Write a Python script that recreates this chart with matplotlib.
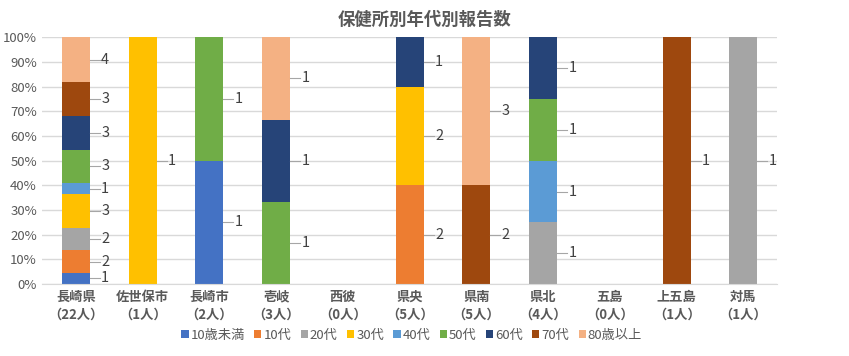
import numpy as np
import matplotlib.pyplot as plt

plt.rcParams['font.family'] = ['Noto Sans CJK JP', 'DejaVu Sans']

categories = ['長崎県', '佐世保市', '長崎市', '壱岐', '西彼', '県央', '県南', '県北', '五島', '上五島', '対馬']
totals = [22, 1, 2, 3, 0, 5, 5, 4, 0, 1, 1]
ages = ['10歳未満', '10代', '20代', '30代', '40代', '50代', '60代', '70代', '80歳以上']
# counts[age][category]
counts = [
    [1, 0, 1, 0, 0, 0, 0, 0, 0, 0, 0],
    [2, 0, 0, 0, 0, 2, 0, 0, 0, 0, 0],
    [2, 0, 0, 0, 0, 0, 0, 1, 0, 0, 1],
    [3, 1, 0, 0, 0, 2, 0, 0, 0, 0, 0],
    [1, 0, 0, 0, 0, 0, 0, 1, 0, 0, 0],
    [3, 0, 1, 1, 0, 0, 0, 1, 0, 0, 0],
    [3, 0, 0, 1, 0, 1, 0, 1, 0, 0, 0],
    [3, 0, 0, 0, 0, 0, 2, 0, 0, 1, 0],
    [4, 0, 0, 1, 0, 0, 3, 0, 0, 0, 0],
]
colors = ['#4472C4', '#ED7D31', '#A5A5A5', '#FFC000', '#5B9BD5',
          '#70AD47', '#264478', '#9E480E', '#F4B183']

fig = plt.figure(figsize=(8.49, 3.56), dpi=100)
ax = fig.add_axes([0.05, 0.202, 0.865, 0.693])

x = np.arange(len(categories))
w = 0.42
tot = np.array(totals, dtype=float)
safe = np.where(tot > 0, tot, 1)
bottom = np.zeros(len(categories))
for k, age in enumerate(ages):
    vals = np.array(counts[k], dtype=float)
    pct = vals / safe * 100
    ax.bar(x, pct, w, bottom=bottom, color=colors[k], label=age, zorder=2)
    for i in range(len(categories)):
        if vals[i] > 0:
            ym = bottom[i] + pct[i] / 2
            xe = x[i] + w / 2
            ax.plot([xe, xe + 0.15], [ym, ym], color='#A6A6A6', lw=0.8,
                    clip_on=False, zorder=3)
            ax.text(xe + 0.17, ym, str(int(vals[i])), va='center', ha='left',
                    fontsize=10.5, color='#404040')
    bottom += pct

ax.set_xlim(-0.5, len(categories) - 0.5)
ax.set_ylim(0, 100)
ax.set_yticks(np.arange(0, 101, 10))
ax.set_yticklabels([f'{v}%' for v in range(0, 101, 10)], fontsize=9.5, color='#595959')
ax.set_xticks(x)
ax.set_xticklabels([f'{c}\n（{t}人）' for c, t in zip(categories, totals)],
                   fontsize=9.5, fontweight='bold', color='#595959', linespacing=1.35)
ax.tick_params(length=0, pad=4)
ax.yaxis.grid(True, color='#D9D9D9', lw=1, zorder=0)
for s in ['top', 'right', 'left']:
    ax.spines[s].set_visible(False)
ax.spines['bottom'].set_color('#D9D9D9')

fig.text(0.5, 0.944, '保健所別年代別報告数', ha='center', va='center',
         fontsize=12.5, fontweight='bold', color='#595959')

fig.legend(loc='center', bbox_to_anchor=(0.485, 0.058), ncol=9, frameon=False,
           fontsize=9.5, handlelength=0.55, handleheight=0.55, handletextpad=0.15,
           columnspacing=0.7, labelcolor='#595959')

fig.savefig('out.png', dpi=100)
